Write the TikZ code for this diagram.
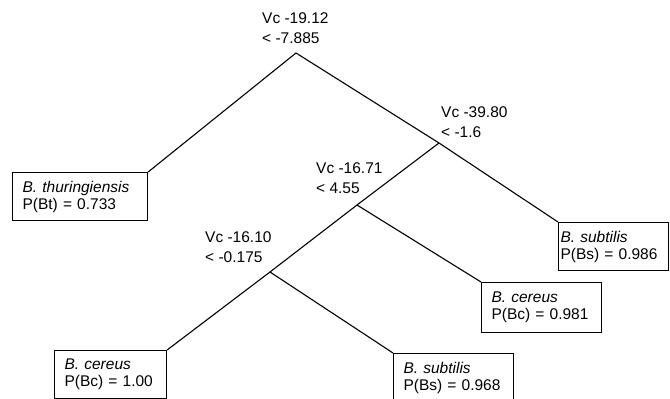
\documentclass[tikz,border=0pt]{standalone}
\usepackage{fontspec}
\setmainfont{Liberation Sans}
\begin{document}
\begin{tikzpicture}[x=1pt,y=1pt,
  branch/.style={line width=1.1pt},
  leaf/.style={draw, line width=1.1pt, anchor=north west, align=left,
    inner xsep=10pt, inner ysep=0pt, font=\fontsize{15.5}{17}\selectfont},
  splitlabel/.style={anchor=west, align=left, inner sep=0pt,
    font=\fontsize{15.5}{20}\selectfont}]
\useasboundingbox (0,0) rectangle (670,399);
\clip (0,0) rectangle (670,399);
% split points
\coordinate (s1) at (296,346);
\coordinate (s2) at (439,256);
\coordinate (s3) at (357,194);
\coordinate (s4) at (270,127);
% split labels
\node[splitlabel] (l1) at (262,371) {Vc -19.12\\< -7.885};
\node[splitlabel] (l2) at (441,276.5) {Vc -39.80\\< -1.6};
\node[splitlabel] (l3) at (316,221) {Vc -16.71\\< 4.55};
\node[splitlabel] (l4) at (205,152) {Vc -16.10\\< -0.175};
% leaves
\node[leaf, minimum width=135pt, minimum height=48pt, text width=115pt] (bt) at (12,227)
  {\textit{B. thuringiensis}\\P(Bt) = 0.733};
\node[leaf, minimum width=110pt, minimum height=48pt, inner xsep=2pt, text width=106pt] (bs1) at (558,177)
  {\textit{B. subtilis}\\P(Bs) = 0.986};
\node[leaf, minimum width=120pt, minimum height=50pt, text width=100pt] (bc1) at (481,117)
  {\textit{B. cereus}\\P(Bc) = 0.981};
\node[leaf, minimum width=112pt, minimum height=48pt, text width=92pt] (bc2) at (54,49)
  {\textit{B. cereus}\\P(Bc) = 1.00};
\node[leaf, minimum width=120pt, minimum height=48pt, text width=100pt] (bs2) at (393,46)
  {\textit{B. subtilis}\\P(Bs) = 0.968};
% branches
\draw[branch] (bt.north east) -- (s1) -- (s2) -- (bs1.north west);
\draw[branch] (s2) -- (s3) -- (s4) -- (bc2.north east);
\draw[branch] (s3) -- (bc1.north west);
\draw[branch] (s4) -- (bs2.north west);
\end{tikzpicture}
\end{document}
